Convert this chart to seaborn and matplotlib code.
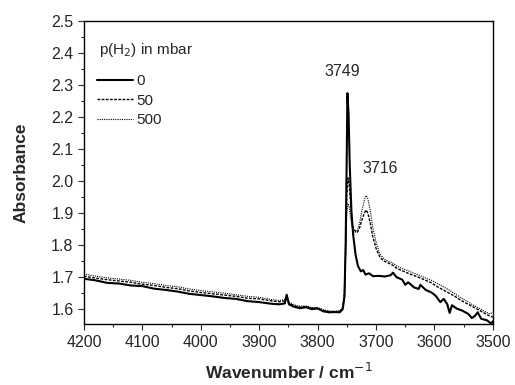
import pandas as pd
import seaborn as sns
import matplotlib.pyplot as plt
from matplotlib.ticker import MultipleLocator

# spectra (wavenumber / absorbance)
wn_0 = [4200, 4180, 4160, 4140, 4120, 4100, 4080, 4060, 4040, 4020, 4000, 3980, 3960, 3940,
        3920, 3900, 3880, 3865, 3856, 3853, 3849, 3840, 3830, 3820, 3810, 3800, 3790, 3780,
        3770, 3762, 3757, 3754, 3752, 3750, 3749, 3747, 3745, 3742, 3739, 3735, 3731, 3726,
        3722, 3718, 3712, 3705, 3695, 3685, 3675, 3671, 3665, 3655, 3650, 3645, 3635, 3627,
        3624, 3615, 3605, 3598, 3590, 3584, 3578, 3574, 3570, 3562, 3552, 3542, 3536, 3530,
        3526, 3520, 3510, 3503, 3500]
abs_0 = [1.695, 1.690, 1.682, 1.680, 1.674, 1.672, 1.664, 1.660, 1.655, 1.648, 1.644, 1.640,
         1.635, 1.632, 1.625, 1.622, 1.617, 1.615, 1.618, 1.645, 1.615, 1.607, 1.603, 1.606,
         1.600, 1.602, 1.593, 1.590, 1.591, 1.590, 1.600, 1.640, 1.800, 2.100, 2.275, 2.210,
         2.050, 1.900, 1.830, 1.770, 1.735, 1.718, 1.722, 1.708, 1.712, 1.703, 1.704, 1.702,
         1.706, 1.714, 1.700, 1.692, 1.676, 1.684, 1.668, 1.663, 1.676, 1.660, 1.652, 1.642,
         1.622, 1.632, 1.615, 1.588, 1.612, 1.602, 1.595, 1.585, 1.572, 1.580, 1.590, 1.570,
         1.565, 1.555, 1.562]

wn_50 = [4200, 4180, 4160, 4140, 4120, 4100, 4080, 4060, 4040, 4020, 4000, 3980, 3960, 3940,
         3920, 3900, 3880, 3865, 3856, 3853, 3849, 3840, 3830, 3820, 3810, 3800, 3790, 3780,
         3770, 3762, 3757, 3754, 3752, 3750, 3748, 3746, 3743, 3740, 3736, 3732, 3728, 3724,
         3720, 3717, 3714, 3710, 3706, 3700, 3694, 3688, 3680, 3672, 3665, 3655, 3645, 3635,
         3625, 3615, 3605, 3595, 3585, 3575, 3565, 3555, 3545, 3535, 3525, 3515, 3505, 3500]
abs_50 = [1.703, 1.697, 1.692, 1.688, 1.684, 1.678, 1.674, 1.668, 1.664, 1.657, 1.652, 1.648,
          1.644, 1.640, 1.634, 1.632, 1.626, 1.623, 1.626, 1.640, 1.618, 1.610, 1.606, 1.608,
          1.603, 1.603, 1.596, 1.592, 1.592, 1.593, 1.605, 1.650, 1.800, 1.960, 2.010, 1.990,
          1.920, 1.860, 1.845, 1.840, 1.855, 1.880, 1.900, 1.910, 1.900, 1.870, 1.830, 1.790,
          1.765, 1.752, 1.745, 1.738, 1.728, 1.720, 1.712, 1.705, 1.698, 1.690, 1.682, 1.670,
          1.660, 1.650, 1.640, 1.628, 1.618, 1.608, 1.598, 1.588, 1.578, 1.575]

wn_500 = [4200, 4180, 4160, 4140, 4120, 4100, 4080, 4060, 4040, 4020, 4000, 3980, 3960, 3940,
          3920, 3900, 3880, 3865, 3856, 3853, 3849, 3840, 3830, 3820, 3810, 3800, 3790, 3780,
          3770, 3762, 3757, 3754, 3752, 3750, 3748, 3746, 3743, 3740, 3736, 3732, 3728, 3724,
          3720, 3717, 3714, 3710, 3706, 3700, 3694, 3688, 3680, 3672, 3665, 3655, 3645, 3635,
          3625, 3615, 3605, 3595, 3585, 3575, 3565, 3555, 3545, 3535, 3525, 3515, 3505, 3500]
abs_500 = [1.710, 1.703, 1.698, 1.694, 1.690, 1.684, 1.680, 1.674, 1.670, 1.663, 1.658, 1.654,
           1.650, 1.645, 1.640, 1.637, 1.630, 1.627, 1.630, 1.645, 1.622, 1.613, 1.609, 1.610,
           1.605, 1.605, 1.598, 1.594, 1.594, 1.595, 1.605, 1.640, 1.780, 1.900, 1.930, 1.920,
           1.880, 1.850, 1.840, 1.845, 1.870, 1.910, 1.940, 1.955, 1.945, 1.910, 1.860, 1.810,
           1.775, 1.760, 1.750, 1.745, 1.735, 1.727, 1.720, 1.712, 1.705, 1.697, 1.690, 1.680,
           1.670, 1.660, 1.648, 1.636, 1.626, 1.614, 1.604, 1.594, 1.585, 1.590]

series_labels = ['0', '50', '500']
peak_labels = ['3749', '3716']

df = pd.concat([
    pd.DataFrame({'wn': wn_0, 'absorb': abs_0, 'p': '0'}),
    pd.DataFrame({'wn': wn_50, 'absorb': abs_50, 'p': '50'}),
    pd.DataFrame({'wn': wn_500, 'absorb': abs_500, 'p': '500'}),
])

sns.set_style('ticks')
plt.rcParams['font.family'] = ['Liberation Sans', 'DejaVu Sans']

fig = plt.figure(figsize=(5.15, 3.85), dpi=100)
ax = fig.add_axes([0.163, 0.158, 0.794, 0.787])

styles = {'0': ('-', 1.5), '50': ((0, (2, 1)), 1.0), '500': ((0, (1, 1)), 0.8)}
for lab in series_labels:
    ls, lw = styles[lab]
    sub = df[df['p'] == lab]
    sns.lineplot(data=sub, x='wn', y='absorb', ax=ax, color='black', linestyle=ls,
                 linewidth=lw, label=lab, sort=False, estimator=None)

ax.set_xlim(4200, 3500)
ax.set_ylim(1.553, 2.5)
ax.xaxis.set_major_locator(MultipleLocator(100))
ax.xaxis.set_minor_locator(MultipleLocator(50))
ax.yaxis.set_major_locator(MultipleLocator(0.1))
ax.yaxis.set_minor_locator(MultipleLocator(0.05))
ax.tick_params(which='major', direction='out', length=4, labelsize=11.5, width=0.8)
ax.tick_params(which='minor', direction='out', length=2.5, width=0.8)
for s in ax.spines.values():
    s.set_linewidth(1.0)
    s.set_color('black')

ax.set_xlabel('Wavenumber / cm$^{-1}$', fontsize=12.5, fontweight='bold', labelpad=9)
ax.set_ylabel('Absorbance', fontsize=12.5, fontweight='bold', labelpad=16)

ax.text(3758, 2.32, peak_labels[0], ha='center', va='bottom', fontsize=11.5)
ax.text(3693, 2.016, peak_labels[1], ha='center', va='bottom', fontsize=11.5)

ax.text(0.037, 0.904, 'p(H$_2$) in mbar', transform=ax.transAxes, ha='left', va='center',
        fontsize=11)
leg = ax.legend(loc='upper left', frameon=False, fontsize=11, handlelength=2.35,
                handletextpad=0.2, labelspacing=0.35, borderpad=0, borderaxespad=0,
                bbox_to_anchor=(0.032, 0.825))

fig.savefig('out.png', dpi=100)
